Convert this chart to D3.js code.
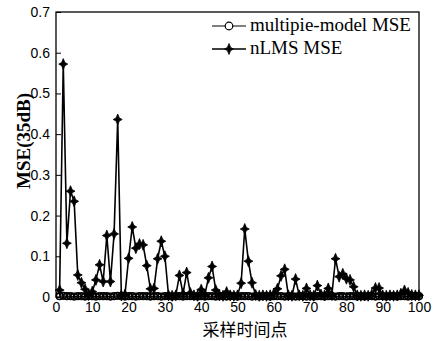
<!DOCTYPE html>
<html>
<head>
<meta charset="utf-8">
<script src="https://cdn.jsdelivr.net/npm/d3@7/dist/d3.min.js"></script>
<style>
  body { margin: 0; background: #fff; }
  svg { display: block; }
</style>
</head>
<body>
<div id="canvas"></div>
<script>
// sample points 1..100
const nlmsMSE = [
  0.017, 0.572, 0.132, 0.260, 0.235, 0.054, 0.035, 0.019, 0.005, 0.013,
  0.042, 0.079, 0.038, 0.151, 0.038, 0.155, 0.436, 0.004, 0.006, 0.095,
  0.172, 0.120, 0.130, 0.128, 0.077, 0.020, 0.021, 0.094, 0.137, 0.100,
  0.004, 0.003, 0.004, 0.053, 0.008, 0.060, 0.010, 0.004, 0.003, 0.018,
  0.006, 0.047, 0.075, 0.017, 0.004, 0.003, 0.012, 0.004, 0.003, 0.004,
  0.034, 0.167, 0.088, 0.035, 0.005, 0.003, 0.004, 0.003, 0.004, 0.008,
  0.020, 0.052, 0.068, 0.004, 0.003, 0.044, 0.004, 0.003, 0.021, 0.004,
  0.003, 0.028, 0.006, 0.004, 0.021, 0.005, 0.094, 0.050, 0.057, 0.045,
  0.042, 0.025, 0.004, 0.003, 0.004, 0.003, 0.006, 0.022, 0.022, 0.004,
  0.003, 0.004, 0.003, 0.004, 0.008, 0.016, 0.010, 0.005, 0.004, 0.004
];
const multiMSE = [
  0.002, 0.003, 0.002, 0.002, 0.001, 0.002, 0.002, 0.001, 0.002, 0.002,
  0.001, 0.002, 0.002, 0.002, 0.001, 0.002, 0.003, 0.002, 0.001, 0.002,
  0.002, 0.001, 0.002, 0.002, 0.002, 0.001, 0.002, 0.002, 0.001, 0.002,
  0.002, 0.001, 0.002, 0.002, 0.001, 0.002, 0.002, 0.002, 0.001, 0.002,
  0.001, 0.002, 0.002, 0.001, 0.002, 0.002, 0.001, 0.002, 0.002, 0.001,
  0.002, 0.002, 0.002, 0.001, 0.002, 0.001, 0.002, 0.002, 0.001, 0.002,
  0.002, 0.002, 0.001, 0.002, 0.002, 0.001, 0.002, 0.002, 0.001, 0.002,
  0.001, 0.002, 0.002, 0.001, 0.002, 0.002, 0.001, 0.002, 0.002, 0.001,
  0.002, 0.002, 0.001, 0.002, 0.001, 0.002, 0.002, 0.001, 0.002, 0.002,
  0.001, 0.002, 0.002, 0.001, 0.002, 0.002, 0.001, 0.002, 0.002, 0.002
];
const xTicks = [0, 10, 20, 30, 40, 50, 60, 70, 80, 90, 100];
const yTicks = [0, 0.1, 0.2, 0.3, 0.4, 0.5, 0.6, 0.7];
const legendLabels = ['multipie-model MSE', 'nLMS MSE'];
const xLabel = '采样时间点';
const yLabel = 'MSE(35dB)';

const W = 445, H = 341;
const m = { left: 56, right: 419, top: 12, bottom: 297 };

const svg = d3.select('#canvas').append('svg')
  .attr('width', W).attr('height', H);

const x = d3.scaleLinear().domain([0, 100]).range([m.left, m.right]);
const y = d3.scaleLinear().domain([0, 0.7]).range([m.bottom, m.top]);

// frame
svg.append('rect')
  .attr('x', m.left).attr('y', m.top)
  .attr('width', m.right - m.left).attr('height', m.bottom - m.top)
  .attr('fill', 'none').attr('stroke', '#000').attr('stroke-width', 1.3);

const xAxis = d3.axisBottom(x).tickValues(xTicks).tickSizeInner(-5).tickSizeOuter(0).tickPadding(5);
const yAxis = d3.axisLeft(y).tickValues(yTicks).tickSizeInner(-5).tickSizeOuter(0).tickPadding(6)
  .tickFormat(d => d === 0 ? '0' : d3.format('.1f')(d));

const gx = svg.append('g').attr('transform', `translate(0,${m.bottom})`).call(xAxis);
const gy = svg.append('g').attr('transform', `translate(${m.left},0)`).call(yAxis);
[gx, gy].forEach(g => {
  g.select('.domain').remove();
  g.selectAll('line').attr('stroke', '#000');
  g.selectAll('text').attr('fill', '#000')
    .style('font-family', 'Liberation Sans, Arial, sans-serif').style('font-size', '14px');
});

const starPath = 'M0,-5.5L1.6,-1.6L4.5,0L1.6,1.6L0,5.5L-1.6,1.6L-4.5,0L-1.6,-1.6Z';

const line = d3.line().x((d, i) => x(i + 1)).y(d => y(d));

// multipie-model series
svg.append('path').datum(multiMSE)
  .attr('d', line).attr('fill', 'none').attr('stroke', '#000').attr('stroke-width', 1);
svg.append('g').selectAll('circle').data(multiMSE).enter().append('circle')
  .attr('cx', (d, i) => x(i + 1)).attr('cy', d => y(d)).attr('r', 3.3)
  .attr('fill', 'none').attr('stroke', '#000').attr('stroke-width', 1.6);

// nLMS series
svg.append('path').datum(nlmsMSE)
  .attr('d', line).attr('fill', 'none').attr('stroke', '#000').attr('stroke-width', 1.6);
svg.append('g').selectAll('path').data(nlmsMSE).enter().append('path')
  .attr('d', starPath)
  .attr('transform', (d, i) => `translate(${x(i + 1)},${y(d)})`)
  .attr('fill', '#000').attr('stroke', '#000').attr('stroke-width', 0.8);

// legend
const lg = svg.append('g');
legendLabels.forEach((lab, k) => {
  const ly = 26 + k * 23;
  lg.append('line').attr('x1', 212).attr('x2', 246).attr('y1', ly).attr('y2', ly)
    .attr('stroke', '#000').attr('stroke-width', k ? 1.5 : 1);
  if (k === 0) {
    lg.append('circle').attr('cx', 229).attr('cy', ly).attr('r', 3.8)
      .attr('fill', '#fff').attr('stroke', '#000').attr('stroke-width', 1.2);
  } else {
    lg.append('path').attr('d', starPath).attr('transform', `translate(229,${ly})`)
      .attr('fill', '#000').attr('stroke', '#000').attr('stroke-width', 0.8);
  }
  lg.append('text').attr('x', 250).attr('y', ly + 5).text(lab)
    .style('font-family', 'Liberation Serif, Times New Roman, serif').style('font-size', '19px');
});

// axis titles
svg.append('text').attr('x', 245).attr('y', 336).attr('text-anchor', 'middle')
  .style('font-family', 'Noto Sans CJK SC, sans-serif').style('font-size', '17px')
  .text(xLabel);
svg.append('text').attr('transform', 'translate(30,141) rotate(-90)').attr('text-anchor', 'middle')
  .style('font-family', 'Liberation Serif, Times New Roman, serif').style('font-size', '19px')
  .style('font-weight', 'bold')
  .text(yLabel);
</script>
</body>
</html>
